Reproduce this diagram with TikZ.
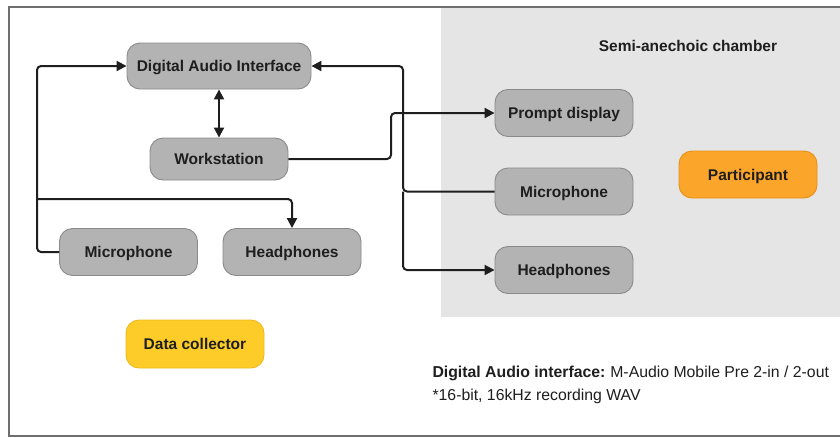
\documentclass[tikz,border=0pt]{standalone}
\usepackage{fontspec}
\setmainfont{Liberation Sans}
\usetikzlibrary{arrows.meta}
\definecolor{boxfill}{HTML}{B3B3B3}
\definecolor{boxline}{HTML}{8A8A8A}
\definecolor{chamber}{HTML}{E5E5E5}
\definecolor{frameline}{HTML}{6E6E6E}
\definecolor{ink}{HTML}{1E1E1E}
\definecolor{orangefill}{HTML}{FCA52B}
\definecolor{orangeline}{HTML}{E39017}
\definecolor{yellowfill}{HTML}{FDCC29}
\definecolor{yellowline}{HTML}{EDB91E}
\tikzset{
  x=1pt, y=-1pt,
  devbox/.style={draw=boxline, fill=boxfill, line width=0.9pt, rounded corners=13pt,
    minimum width=138pt, minimum height=47pt, inner sep=0pt, text height=11pt, text depth=0pt,
    font=\fontsize{15.5}{18}\selectfont\bfseries, text=ink},
  wire/.style={draw=ink, line width=2pt, rounded corners=4pt},
  tip/.style={-{Triangle[length=10pt,width=10pt]}},
  dtip/.style={{Triangle[length=10pt,width=10pt]}-{Triangle[length=10pt,width=10pt]}},
}
\begin{document}
\begin{tikzpicture}
\useasboundingbox (0,0) rectangle (840,437);
% chamber
\fill[chamber] (441,7) rectangle (840,317);
% frame
\draw[frameline, line width=1.3pt] (840,7) -- (9,7) -- (9,436) -- (840,436);
\node[font=\fontsize{15.5}{18}\selectfont\bfseries, text=ink, text height=11pt, text depth=0pt] (title) at (688,46) {Semi-anechoic chamber};
% nodes
\node[devbox, minimum width=184pt, minimum height=46pt] (dai) at (219,66) {Digital Audio Interface};
\node[devbox, minimum height=42pt] (ws) at (219,159) {Workstation};
\node[devbox] (micL) at (128.5,252) {Microphone};
\node[devbox] (hpL) at (292,252) {Headphones};
\node[devbox, fill=yellowfill, draw=yellowline, minimum height=48pt] (dc) at (195,344) {Data collector};
\node[devbox] (pd) at (564,113) {Prompt display};
\node[devbox] (micR) at (564,191.5) {Microphone};
\node[devbox] (hpR) at (564,270) {Headphones};
\node[devbox, fill=orangefill, draw=orangeline] (part) at (748,174.5) {Participant};
% connectors
\coordinate (lj) at (37,199);
\coordinate (rj) at (403,191.5);
\draw[wire, tip] (micL.west) -- (37,252) |- (dai.west);
\draw[wire, tip] (lj) -| (hpL.north);
\draw[wire, dtip] (dai.south) -- (ws.north);
\draw[wire, tip] (ws.east) -- (391,159) |- (pd.west);
\draw[wire, tip] (micR.west) -- (rj) |- (dai.east);
\draw[wire, tip] (rj) |- (hpR.west);
% note
\node[anchor=west, font=\fontsize{15.8}{18}\selectfont, text=ink, text height=11pt, text depth=0pt] (note1) at (429,372) {\textbf{Digital Audio interface:}\hspace{-1pt} M-Audio Mobile Pre 2-in / 2-out};
\node[anchor=west, font=\fontsize{15.8}{18}\selectfont, text=ink, text height=11pt, text depth=0pt] (note2) at (429,395) {*16-bit, 16kHz recording WAV};
\end{tikzpicture}
\end{document}
